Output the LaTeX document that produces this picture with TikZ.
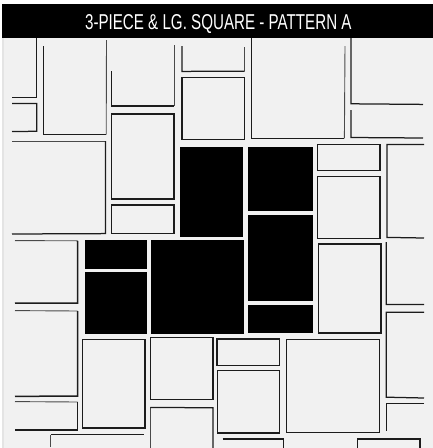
\documentclass[tikz,border=0pt]{standalone}
\usepackage{fontspec}
\setmainfont{Liberation Sans}
\definecolor{paper}{HTML}{F1F1F1}
\definecolor{edge}{HTML}{E4E4E4}
\definecolor{ink}{HTML}{1C1C1C}
\definecolor{fade}{HTML}{4A4A4A}
\tikzset{
  tile/.style={draw=ink,line width=1.25pt,line join=miter,fill=none},
  faint/.style={draw=fade,line width=0.9pt,line join=miter,fill=none},
  heavy/.style={draw=ink,line width=1.5pt,line join=miter,fill=none},
  solid tile/.style={fill=black,draw=none},
  banner/.style={fill=black,draw=none},
  caption/.style={text=white,font=\fontsize{21.5}{21.5}\selectfont,xscale=0.705,inner sep=0pt,anchor=base}
}
\begin{document}
\begin{tikzpicture}[x=1pt,y=-1pt]
\useasboundingbox (0,0) rectangle (433,448);
\fill[white] (0,0) rectangle (433,448);
\fill[edge] (2,4) rectangle (433,448);
\fill[paper] (3.5,4) rectangle (433,448);
\fill[banner] (2,4) rectangle (433,38);
\node[caption] (title) at (218.3,29) {3-PIECE \& LG. SQUARE - PATTERN A};
% solid tiles
\fill[solid tile] (180,147) rectangle (242.5,236.8);
\fill[solid tile] (248,147) rectangle (312.5,210.7);
\fill[solid tile] (248,214.5) rectangle (312.5,300.5);
\fill[solid tile] (248,304.5) rectangle (312.5,333);
\fill[solid tile] (85,240) rectangle (147,268.7);
\fill[solid tile] (85,271.5) rectangle (147,333.7);
\fill[solid tile] (151,240) rectangle (244.3,333.7);
% closed tiles
\draw[tile] (111.5,114) rectangle (174,199);
\draw[tile] (111.5,205) rectangle (174,233.3);
\draw[tile] (182,77.5) rectangle (244.5,139.5);
\draw[tile] (317.5,144.5) rectangle (380,170.8);
\draw[tile] (317.5,176.3) rectangle (380,238.2);
\draw[tile] (318.4,244) rectangle (381,333);
\draw[tile] (217,339) rectangle (279.6,365.7);
\draw[tile] (217.5,370.7) rectangle (279.6,433);
\draw[tile] (286.7,339.3) rectangle (379.8,432.4);
\draw[tile] (82.7,339.4) rectangle (145,428);
\draw[tile] (150.4,337.8) rectangle (213,399.8);
% open tiles
\draw[heavy] (36.7,38) -- (36.7,97.5) -- (12,97.5);
\draw[tile] (12,103.5) -- (36.8,103.5) -- (36.8,131.3) -- (12,131.5);
\draw[faint] (106.5,40) -- (106.2,134.7);
\draw[heavy] (43.7,46) -- (43.7,134.7) -- (106.2,134.7);
\draw[faint] (174,45) -- (174,106);
\draw[heavy] (111.5,71) -- (111.5,106) -- (174,106);
\draw[faint] (12,141) -- (105.5,141);
\draw[tile] (105.5,141) -- (105.5,233.6) -- (12,234);
\draw[faint] (244.5,71.2) -- (244.5,47);
\draw[tile] (182,46) -- (182,71.4) -- (244.5,71.2);
\draw[faint] (344.4,138.3) -- (345,46);
\draw[heavy] (251.4,38) -- (251.4,138.3) -- (344.4,138.3);
\draw[tile] (351,38) -- (351,103.8) -- (423,104.4);
\draw[tile] (351,110) -- (351,137.5) -- (423,138);
\draw[tile] (424,144.5) -- (387,144.5) -- (387,237.4) -- (424,238);
\draw[tile] (386.3,242) -- (386.3,304.4) -- (424,304.5);
\draw[tile] (424,312.3) -- (386.3,312.3) -- (386.3,397.2) -- (424,398);
\draw[tile] (424,403.7) -- (386.3,403.7) -- (386.3,431);
\draw[faint] (15,240.6) -- (77.7,240.8);
\draw[heavy] (77.7,240.8) -- (77.7,303) -- (15,303.2);
\draw[faint] (15,310.6) -- (77.7,311);
\draw[heavy] (77.7,311) -- (77.7,396) -- (15,396.4);
\draw[faint] (15,401.6) -- (77.7,402);
\draw[heavy] (77.7,402) -- (77.7,430) -- (15,430);
\draw[faint] (50.6,447) -- (50.6,434.8);
\draw[tile] (50.6,434.8) -- (144,434.8);
\draw[faint] (150.4,448) -- (150.4,407.4);
\draw[tile] (150.4,407.4) -- (213,407.8) -- (213,448);
\draw[tile] (222.7,439) -- (283.7,439) -- (283.7,448);
\draw[tile] (357.4,448) -- (357.4,439) -- (420,439) -- (420,448);
\end{tikzpicture}
\end{document}
